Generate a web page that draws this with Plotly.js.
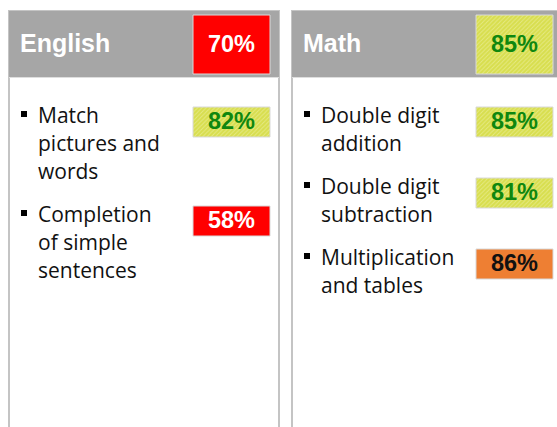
<!DOCTYPE html>
<html>
<head>
<meta charset="utf-8">
<script src="https://cdn.plot.ly/plotly-3.0.1.min.js"></script>
<style>html,body{margin:0;padding:0;background:#fff;}#chart{width:557px;height:427px;}</style>
</head>
<body>
<div id="chart"></div>
<script>
// ---- data ----
const subjects = ['English', 'Math'];
const subjectScores = [70, 85];
const subjectRatings = ['red', 'green'];
const englishSkills = ['Match\npictures and\nwords', 'Completion\nof simple\nsentences'];
const englishScores = [82, 58];
const englishRatings = ['green', 'red'];
const mathSkills = ['Double digit\naddition', 'Double digit\nsubtraction', 'Multiplication\nand tables'];
const mathScores = [85, 81, 86];
const mathRatings = ['green', 'green', 'orange'];

// ---- styles / layout constants ----
const W = 557, H = 427;
const panelLeft = [9, 292];
const panelWidth = 270;
const headerTop = 11, headerBottom = 77;
const boxOffset = 184, boxWidth = 77;
const headBoxTop = 15, headBoxH = 59;
const firstLineY = 115.5, lineStep = 28, itemGap = 15, itemBoxH = 30;
const styles = {
  green: {bg: '#d8de4e', fg: '#e6ea86', text: '#0f870f', hatch: true},
  red: {bg: '#ff0000', text: '#ffffff', hatch: false},
  orange: {bg: '#ee7f33', text: '#111111', hatch: false}
};
const skills = [englishSkills, mathSkills];
const scores = [englishScores, mathScores];
const ratings = [englishRatings, mathRatings];

const traces = [];
const shapes = [];

function boxTrace(left, top, w, h, rating) {
  const s = styles[rating];
  const t = {
    type: 'bar', orientation: 'h',
    y: [top + h / 2], x: [w], base: [left], width: [h],
    marker: {color: s.bg, line: {color: '#d9d9d9', width: 1}},
    hoverinfo: 'skip'
  };
  if (s.hatch) {
    t.marker.pattern = {shape: '/', bgcolor: s.bg, fgcolor: s.fg, size: 3, solidity: 0.3, fillmode: 'replace'};
  }
  traces.push(t);
}
function textTrace(xs, ys, texts, font, pos) {
  traces.push({
    type: 'scatter', mode: 'text', x: xs, y: ys, text: texts,
    textposition: pos, textfont: font, hoverinfo: 'skip'
  });
}

subjects.forEach((subj, p) => {
  const L = panelLeft[p];
  // panel frame and header
  shapes.push({type: 'rect', xref: 'x', yref: 'y', x0: L, x1: L + panelWidth, y0: headerTop, y1: H + 20,
    line: {color: '#c4c4c4', width: 2}, fillcolor: 'rgba(0,0,0,0)', layer: 'below'});
  shapes.push({type: 'rect', xref: 'x', yref: 'y', x0: L, x1: L + panelWidth, y0: headerTop, y1: headerBottom,
    line: {width: 0}, fillcolor: '#a6a6a6', layer: 'below'});
  shapes.push({type: 'line', xref: 'x', yref: 'y', x0: L, x1: L + panelWidth, y0: headerBottom + 0.5, y1: headerBottom + 0.5,
    line: {color: '#dedede', width: 1}, layer: 'below'});
  // header
  textTrace([L + 11], [headBoxTop + headBoxH / 2 + 1.5], ['<b>' + subj + '</b>'],
    {family: 'Liberation Sans, Arial', size: 25, color: '#ffffff'}, 'middle right');
  boxTrace(L + boxOffset, headBoxTop, boxWidth, headBoxH, subjectRatings[p]);
  textTrace([L + boxOffset + boxWidth / 2], [headBoxTop + headBoxH / 2 + 1.5], ['<b>' + subjectScores[p] + '%</b>'],
    {family: 'Liberation Sans, Arial', size: 23.5, color: styles[subjectRatings[p]].text}, 'middle center');
  // items
  let y = firstLineY;
  const bx = [], by = [];
  skills[p].forEach((label, i) => {
    const lines = label.split('\n');
    bx.push(L + 15); by.push(y - 1.5);
    boxTrace(L + boxOffset, y - 8.5, boxWidth, itemBoxH, ratings[p][i]);
    textTrace([L + boxOffset + boxWidth / 2], [y - 8.5 + itemBoxH / 2 + 1.5], ['<b>' + scores[p][i] + '%</b>'],
      {family: 'Liberation Sans, Arial', size: 23.5, color: styles[ratings[p][i]].text}, 'middle center');
    textTrace(lines.map(() => L + 29), lines.map((_, k) => y + k * lineStep + 2), lines,
      {family: 'Open Sans, sans-serif', size: 21, color: '#111111'}, 'middle right');
    y += lines.length * lineStep + itemGap;
  });
  traces.push({type: 'scatter', mode: 'markers', x: bx, y: by,
    marker: {symbol: 'square', size: 6, color: '#000000'}, hoverinfo: 'skip'});
});

const layout = {
  width: W, height: H,
  margin: {l: 0, r: 0, t: 0, b: 0},
  paper_bgcolor: '#ffffff', plot_bgcolor: '#ffffff',
  showlegend: false, hovermode: false, barmode: 'overlay',
  xaxis: {range: [0, W], visible: false, fixedrange: true},
  yaxis: {range: [H, 0], visible: false, fixedrange: true},
  shapes: shapes
};
Plotly.newPlot('chart', traces, layout, {displayModeBar: false, staticPlot: true});
</script>
</body>
</html>
